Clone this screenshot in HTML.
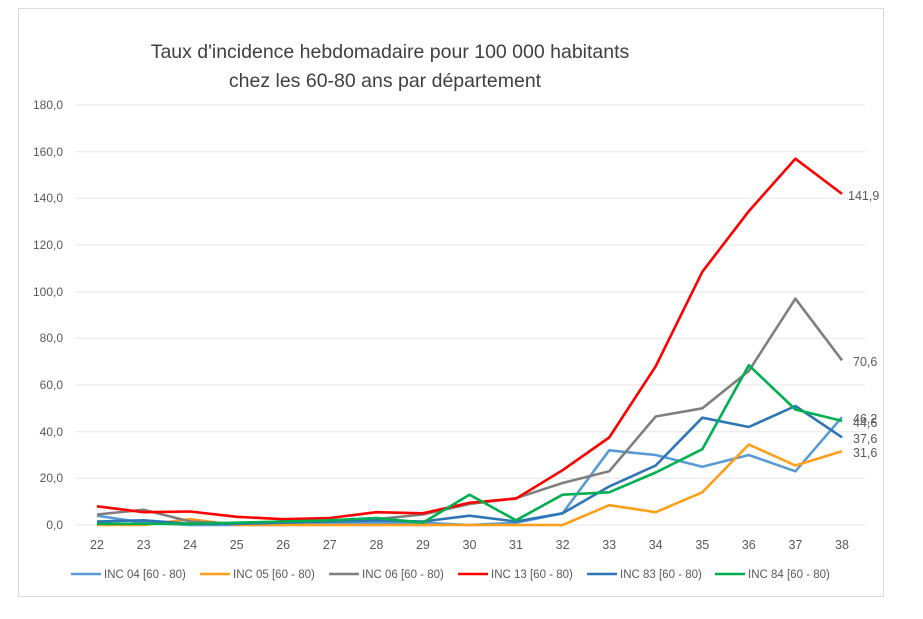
<!DOCTYPE html><html><head><meta charset="utf-8"><style>body{margin:0;background:#fff}svg{display:block;font-family:"Liberation Sans",sans-serif}</style></head><body>
<svg width="923" height="619" viewBox="0 0 923 619">
<rect x="18.5" y="8.5" width="865" height="588" fill="#fff" stroke="#d9d9d9"/>
<text x="390" y="58" text-anchor="middle" font-size="19.5" fill="#404040">Taux d'incidence  hebdomadaire  pour  100 000 habitants</text>
<text x="385" y="87" text-anchor="middle" font-size="19.5" fill="#404040">chez les 60-80 ans par département</text>
<g stroke="#e6e6e6" stroke-width="1">
<line x1="75" x2="865" y1="525" y2="525"/><line x1="75" x2="865" y1="478.3" y2="478.3"/><line x1="75" x2="865" y1="431.7" y2="431.7"/><line x1="75" x2="865" y1="385" y2="385"/><line x1="75" x2="865" y1="338.3" y2="338.3"/><line x1="75" x2="865" y1="291.7" y2="291.7"/><line x1="75" x2="865" y1="245" y2="245"/><line x1="75" x2="865" y1="198.3" y2="198.3"/><line x1="75" x2="865" y1="151.7" y2="151.7"/><line x1="75" x2="865" y1="105" y2="105"/>
</g>
<g font-size="12" fill="#595959" text-anchor="end">
<text x="63" y="529">0,0</text><text x="63" y="482">20,0</text><text x="63" y="436">40,0</text><text x="63" y="389">60,0</text><text x="63" y="342">80,0</text><text x="63" y="296">100,0</text><text x="63" y="249">120,0</text><text x="63" y="202">140,0</text><text x="63" y="156">160,0</text><text x="63" y="109">180,0</text>
</g>
<g font-size="12.5" fill="#595959" text-anchor="middle">
<text x="97" y="549">22</text><text x="143.6" y="549">23</text><text x="190.1" y="549">24</text><text x="236.7" y="549">25</text><text x="283.2" y="549">26</text><text x="329.8" y="549">27</text><text x="376.4" y="549">28</text><text x="422.9" y="549">29</text><text x="469.5" y="549">30</text><text x="516" y="549">31</text><text x="562.6" y="549">32</text><text x="609.2" y="549">33</text><text x="655.7" y="549">34</text><text x="702.3" y="549">35</text><text x="748.8" y="549">36</text><text x="795.4" y="549">37</text><text x="842" y="549">38</text>
</g>
<g fill="none" stroke-width="2.6" stroke-linejoin="round">
<polyline stroke="#5B9BD5" points="97,515.7 143.6,522.7 190.1,525 236.7,525 283.2,525 329.8,522.7 376.4,522.7 422.9,522.7 469.5,525 516,522.7 562.6,513.3 609.2,450.3 655.7,455 702.3,466.7 748.8,455 795.4,471.3 842,417.2"/>
<polyline stroke="#FF9F1A" points="97,525 143.6,525 190.1,519.2 236.7,525 283.2,525 329.8,525 376.4,525 422.9,525 469.5,525 516,525 562.6,525 609.2,505.2 655.7,512.2 702.3,492.3 748.8,444.5 795.4,465.5 842,451.3"/>
<polyline stroke="#7F7F7F" points="97,514.5 143.6,509.8 190.1,521.5 236.7,523.8 283.2,521.5 329.8,520.3 376.4,519.2 422.9,514.5 469.5,504 516,498.2 562.6,483 609.2,471.3 655.7,416.5 702.3,408.3 748.8,371 795.4,298.7 842,360.3"/>
<polyline stroke="#FF0000" points="97,506.3 143.6,512.2 190.1,511.5 236.7,516.8 283.2,519.2 329.8,518 376.4,512.2 422.9,513.3 469.5,502.8 516,498.6 562.6,470.2 609.2,437.5 655.7,366.3 702.3,271.8 748.8,211.2 795.4,158.7 842,193.9"/>
<polyline stroke="#2E75B6" points="97,521.5 143.6,520.3 190.1,523.8 236.7,523.8 283.2,522.7 329.8,521.5 376.4,520.3 422.9,521.5 469.5,515.7 516,521.5 562.6,513.3 609.2,486.5 655.7,465.5 702.3,417.7 748.8,427 795.4,406 842,437.3"/>
<polyline stroke="#00B050" points="97,523.8 143.6,523.8 190.1,523.8 236.7,522.7 283.2,521.5 329.8,520.3 376.4,518 422.9,522.7 469.5,494.7 516,520.3 562.6,494.7 609.2,492.3 655.7,472.5 702.3,449.2 748.8,365.2 795.4,409.5 842,420.9"/>
</g>
<g font-size="12.5" fill="#595959">
<text x="848" y="200">141,9</text><text x="853" y="366">70,6</text><text x="853" y="423">46,2</text><text x="853" y="427">44,6</text><text x="853" y="443">37,6</text><text x="853" y="457">31,6</text>
</g>
<g font-size="11.5" fill="#595959" stroke-width="2.6">
<line x1="71" x2="101" y1="574" y2="574" stroke="#5B9BD5"/><text x="104" y="578">INC 04 [60 - 80)</text>
<line x1="200" x2="230" y1="574" y2="574" stroke="#FF9F1A"/><text x="233" y="578">INC 05 [60 - 80)</text>
<line x1="329" x2="359" y1="574" y2="574" stroke="#7F7F7F"/><text x="362" y="578">INC 06 [60 - 80)</text>
<line x1="458" x2="488" y1="574" y2="574" stroke="#FF0000"/><text x="491" y="578">INC 13 [60 - 80)</text>
<line x1="587" x2="617" y1="574" y2="574" stroke="#2E75B6"/><text x="620" y="578">INC 83 [60 - 80)</text>
<line x1="715" x2="745" y1="574" y2="574" stroke="#00B050"/><text x="748" y="578">INC 84 [60 - 80)</text>
</g>
</svg></body></html>
